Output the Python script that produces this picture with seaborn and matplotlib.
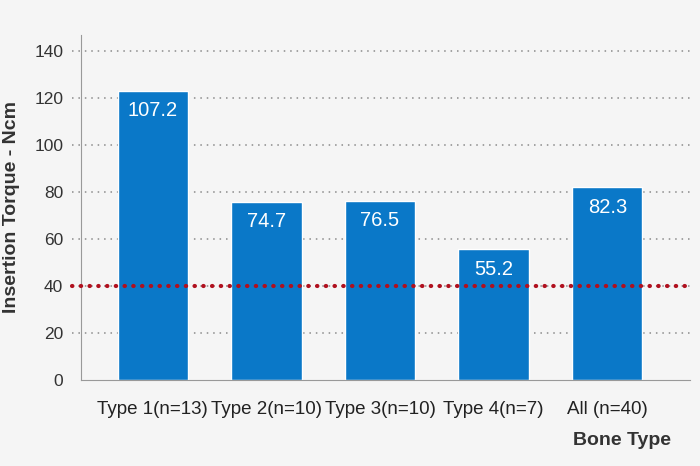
import pandas as pd
import matplotlib.pyplot as plt
import seaborn as sns

# data
bone_types = ['Type 1(n=13)', 'Type 2(n=10)', 'Type 3(n=10)', 'Type 4(n=7)', 'All (n=40)']
bar_heights = [123.0, 75.7, 76.3, 55.6, 82.0]
value_labels = ['107.2', '74.7', '76.5', '55.2', '82.3']
threshold = 40
y_ticks = [0, 20, 40, 60, 80, 100, 120, 140]

bg = '#f5f5f5'
bar_color = '#0a78c8'
red = '#b0101e'

sns.set_style('white')
plt.rcParams['font.family'] = ['Liberation Sans', 'DejaVu Sans']

df = pd.DataFrame({'bone': bone_types, 'torque': bar_heights})

fig = plt.figure(figsize=(7, 4.66), dpi=100, facecolor=bg)
ax = fig.add_axes([0.116, 0.185, 0.87, 0.74])
ax.set_facecolor(bg)

# dotted grid lines, drawn slightly left of the spine
for t in y_ticks[1:]:
    ax.plot([-0.015, 1.0], [t, t], transform=ax.get_yaxis_transform(), clip_on=False,
            color='#8a8a8a', linestyle=(0, (1, 3.2)), linewidth=1.1, zorder=0)

sns.barplot(data=df, x='bone', y='torque', color=bar_color, width=0.62,
            saturation=1, ax=ax, zorder=2)

ax.plot([-0.015, 1.0], [threshold, threshold], transform=ax.get_yaxis_transform(),
        clip_on=False, color=red, linestyle=(0, (0.1, 2.0)), linewidth=3.0,
        dash_capstyle='round', zorder=3)

for i, (h, lab) in enumerate(zip(bar_heights, value_labels)):
    ax.text(i, h - 8.5, lab, ha='center', va='center', color='white', fontsize=14.5, zorder=4)

ax.set_xlim(-0.63, 4.73)
ax.set_ylim(0, 146.8)
ax.set_yticks(y_ticks)
ax.tick_params(axis='y', length=0, pad=13, labelsize=12.5, labelcolor='#333333')
ax.tick_params(axis='x', length=0, pad=15, labelsize=13.5, labelcolor='#222222')

for s in ['top', 'right']:
    ax.spines[s].set_visible(False)
ax.spines['left'].set_color('#999999')
ax.spines['bottom'].set_color('#999999')

ax.set_xlabel('')
ax.set_ylabel('Insertion Torque - Ncm', fontsize=14, fontweight='bold', color='#333333', labelpad=10)
fig.text(0.889, 0.055, 'Bone Type', ha='center', va='center', fontsize=14,
         fontweight='bold', color='#333333')

plt.savefig('out.png', dpi=100, facecolor=bg)
